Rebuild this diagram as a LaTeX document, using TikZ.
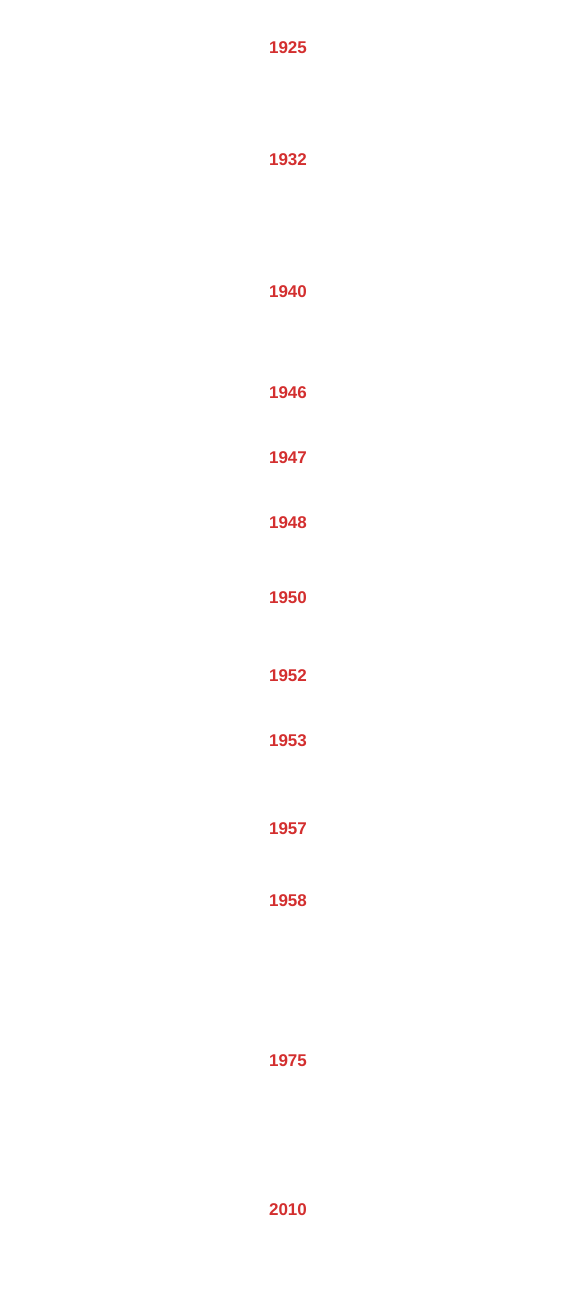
\documentclass[tikz,border=0pt]{standalone}
\usepackage{fontspec}
\setmainfont{Liberation Sans}
\usepackage{xcolor}
\definecolor{yearred}{HTML}{D32F2F}

\begin{document}
\begin{tikzpicture}[
                    x=1pt, y=-1pt,
                    year/.style={text=yearred, font=\bfseries\fontsize{17}{19}\selectfont, inner sep=0pt}
                ]
                    \useasboundingbox (0,0) rectangle (575,1311);
                    \foreach \yr/\ypos in {1925/48, 1932/160, 1940/292, 1946/393, 1947/458, 1948/523, 1950/598, 1952/676, 1953/741, 1957/829, 1958/901, 1975/1061, 2010/1210}
                        \node[year] (y\yr) at (288,\ypos) {\yr};
                \end{tikzpicture}
\end{document}
